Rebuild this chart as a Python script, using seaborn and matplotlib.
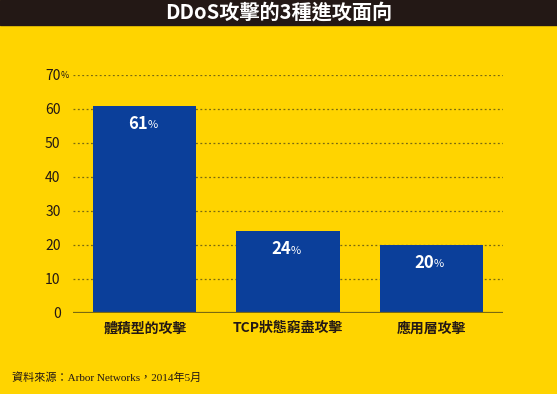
#!/usr/bin/env python3
"""DDoS attack vectors bar chart (Arbor Networks, May 2014)."""
import matplotlib

matplotlib.use("Agg")
import matplotlib.pyplot as plt
import pandas as pd
import seaborn as sns

categories = ["體積型的攻擊", "TCP狀態窮盡攻擊", "應用層攻擊"]
shares = [61, 24, 20]
y_ticks = [0, 10, 20, 30, 40, 50, 60, 70]

title = "DDoS攻擊的3種進攻面向"
source = "資料來源：Arbor Networks，2014年5月"

YELLOW = "#FFD400"
BLUE = "#0B3F9A"
DARK = "#231815"
GRID = "#7A6A10"

sns.set_theme(style="white")
plt.rcParams["font.family"] = ["Noto Sans CJK TC", "DejaVu Sans"]

df = pd.DataFrame({"category": categories, "share": shares})

fig = plt.figure(figsize=(5.57, 3.94), dpi=100, facecolor=YELLOW)
ax = fig.add_axes([73 / 557, 81 / 394, 430 / 557, 238 / 394])
ax.set_facecolor(YELLOW)

sns.barplot(data=df, x="category", y="share", color=BLUE, width=0.72,
            saturation=1, linewidth=0, edgecolor=BLUE, ax=ax, zorder=3)

ax.set_xlim(-0.5, 2.5)
ax.set_ylim(0, 70)
ax.set_yticks(y_ticks)
ax.set_yticklabels([str(t) for t in y_ticks], fontsize=10, color=DARK)
ax.tick_params(axis="y", length=0, pad=9)
ax.tick_params(axis="x", length=0, pad=6)
for lbl in ax.get_xticklabels():
    lbl.set_fontsize(10)
    lbl.set_fontweight("bold")
    lbl.set_color(DARK)
ax.set_xlabel("")
ax.set_ylabel("")
for s in ax.spines.values():
    s.set_visible(False)

for t in y_ticks[1:]:
    ax.axhline(t, color=GRID, lw=0.9, ls=(0, (1.5, 2)), zorder=1)
ax.axhline(0, color=GRID, lw=1.6, zorder=4)

# small percent sign after the top tick label
ax.annotate("%", xy=(0, 70), xycoords=("axes fraction", "data"),
            xytext=(-9, 0), textcoords="offset points",
            ha="left", va="center", fontsize=6.5, color=DARK)

for i, v in enumerate(shares):
    ax.annotate(str(v), xy=(i, v), xytext=(2, -13), textcoords="offset points",
                ha="right", va="center", fontsize=12, fontweight="bold",
                color="white", zorder=5)
    ax.annotate("%", xy=(i, v), xytext=(2, -14), textcoords="offset points",
                ha="left", va="center", fontsize=8, color="white", zorder=5)

# title bar
fig.patches.append(plt.Rectangle((0, 1 - 25 / 394), 1, 25 / 394,
                                 transform=fig.transFigure, color=DARK))
fig.text(0.5, 1 - 12 / 394, title, ha="center", va="center",
         fontsize=14.5, fontweight="bold", color="white")

fig.text(12 / 557, 16 / 394, source, ha="left", va="center", fontsize=8,
         color=DARK, family=["Liberation Serif", "Noto Sans CJK TC"])

fig.savefig("out.png", dpi=100, facecolor=YELLOW)
